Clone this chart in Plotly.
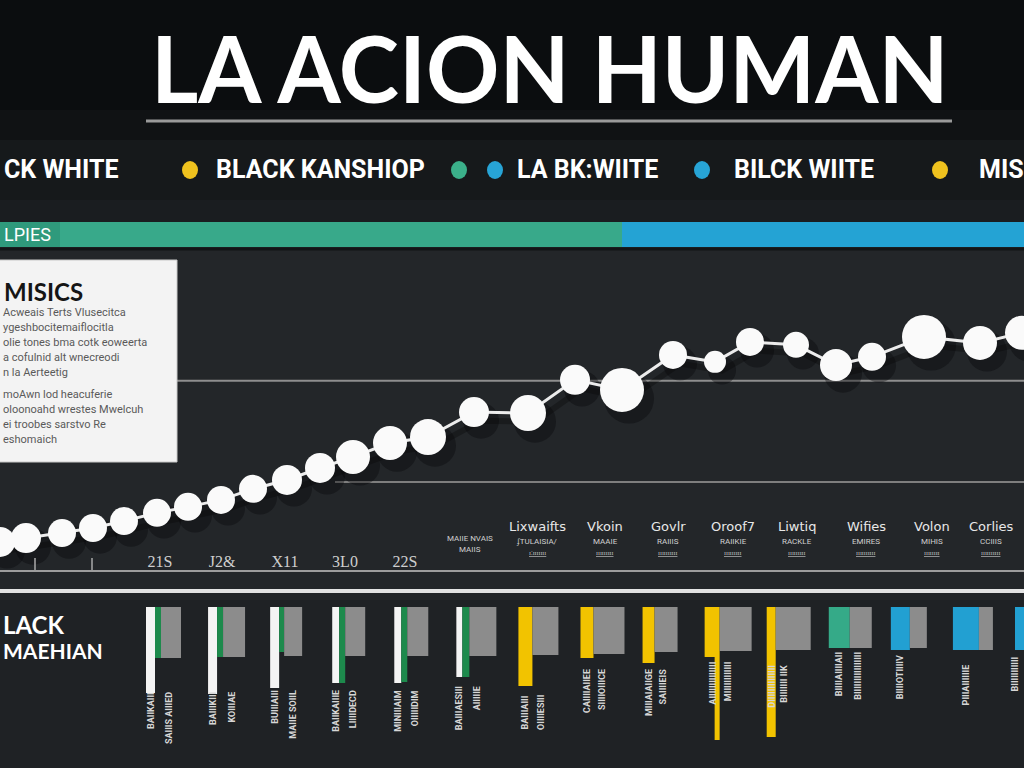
import plotly.graph_objects as go

W, H = 1024, 768


def px(x):
    return x / W


def py(y):
    return 1 - y / H


# ---------------- data ----------------
# trend line
period = [0.0, 2.6, 6.2, 9.3, 12.4, 15.7, 18.8, 22.1, 25.3, 28.7, 32.0, 35.3, 39.0, 42.8,
          47.4, 52.8, 57.5, 62.2, 67.3, 71.5, 75.0, 79.6, 83.6, 87.2, 92.4, 98.0, 102.2]
index_value = [11.7, 13.3, 15.4, 17.5, 20.4, 23.8, 26.3, 29.2, 33.8, 37.5, 42.5, 47.1, 52.9, 55.4,
               65.8, 65.4, 79.2, 75.0, 89.6, 86.7, 95.0, 93.8, 85.4, 88.8, 97.1, 94.6, 98.8]
point_weight = [30, 30, 28, 28, 28, 28, 28, 28, 28, 30, 30, 34, 34, 36,
                30, 36, 30, 44, 28, 22, 28, 26, 32, 28, 44, 34, 34]

tick_pos = [16.0, 22.2, 28.5, 34.5, 40.5]
tick_text = ["21S", "J2&", "X11", "3L0", "22S"]

cat_pos = [47.0, 53.7, 60.5, 66.8, 73.3, 79.7, 86.6, 93.2, 99.1]
cat_title = ["MAIIE NVAIS", "Lixwaifts", "Vkoin", "Govlr", "Oroof7", "Liwtiq", "Wifies", "Volon", "Corlies"]
cat_sub = ["MAIIS", "ʄTULAISIA/", "MAAIE", "RAIIIS", "RAIIKIE", "RACKLE", "EMIRES", "MIHIS", "CCIIIS"]
cat_sub2 = ["", "ɪ:ɪɪɪɪɪɪɪ", "ɪɪɪɪɪɪɪɪɪ", "ɪɪɪɪɪɪɪɪɪɪ", "ɪɪɪɪɪɪɪɪɪ", "ɪɪɪɪɪɪɪɪɪ", "ɪɪɪɪɪɪɪɪɪɪ", "ɪɪɪɪɪɪɪɪ", "ɪɪɪɪɪɪɪɪɪɪ"]

legend_names = ["CK WHITE", "BLACK KANSHIOP", "LA BK:WIITE", "BILCK WIITE", "MIS"]

grid_values = [36.7, 78.8]

# bar panel
slots = list(range(15))
bar_main = [86, 87, 81, 76, 76, 70, 79, 51, 56, 50, 130, 41, 43, 43, 43]
bar_stripe = [51, 50, 45, 76, 75, 70, 0, 0, 0, 0, 0, 0, 0, 0, 0]
bar_gray = [51, 50, 49, 49, 49, 49, 48, 47, 45, 44, 43, 41, 41, 43, 43]
bar_tail = [0, 0, 0, 0, 0, 0, 0, 0, 0, 83, 0, 0, 0, 0, 0]
bar_tail_base = [0, 0, 0, 0, 0, 0, 0, 0, 0, 50, 0, 0, 0, 0, 0]
label_a = ["BAIIKAIII", "BAIIIKIII", "BUIIIAIII", "BAIIKAIIIE", "MINIIIAIM", "BAIIIAESIII",
           "BAIIIAIII", "CAIIIIAIIEE", "MIIIAIAIIGE", "AIIIIIIIIIIIIII", "DIIIIIIIIIIIIII",
           "BIIIIAIIIIAII", "BIIIIOTIIIIV", "PIIIAIIIIIIE", "BIIIIIIIIIII"]
label_b = ["SAIIIS AIIIED", "KOIIIAE", "MAIIE SOIIL", "LIIIIDECD", "OIIIIIDIM", "AIIIIIE",
           "OIIIIESIII", "SIIIIOIIICE", "SAIIIIEIS", "MIIIIIIIIIIII", "BIIIIIII IIK", "BIIIIIIIIIIIIIIII",
           "", "", ""]

# ---------------- styles ----------------
main_colors = ["#f4f4f4"] * 6 + ["#f2c300"] * 5 + ["#35aa88"] + ["#22a0d2"] * 3
main_w_px = [9, 9, 9, 7, 7, 6, 14, 13, 12, 15, 9, 21, 19, 26, 12]
stripe_w_px = [6, 6, 5, 6, 6, 7, 0, 0, 0, 0, 0, 0, 0, 0, 0]
gray_w_px = [20, 22, 18, 20, 21, 27, 26, 31, 23, 32, 35, 22, 17, 14, 10]
label_top_px = [690, 690, 688, 688, 688, 684, 693, 667, 667, 660, 663, 650, 653, 662, 655]
legend_text_x = [2, 214, 515, 732, 977]
SLOT_PX = 62.07
SLOT0_PX = 146
X_RANGE = [0, 102.4]
Y_RANGE = [0, 133.3]
SHADOW_DX, SHADOW_DY = 0.7, 3.6   # shadow offset, in axis units
LABEL_MAX_X = (1014 - SLOT0_PX) / SLOT_PX

fig = go.Figure()

# soft shadow of the trend line (same data on an offset copy of the axes)
fig.add_trace(go.Scatter(
    x=period, y=index_value, mode="lines+markers",
    line=dict(color="rgba(0,0,0,0.28)", width=6),
    marker=dict(size=[s + 6 for s in point_weight], color="rgba(5,6,7,0.36)", opacity=1, line=dict(width=0)),
    xaxis="x", yaxis="y", showlegend=False, hoverinfo="skip",
))
# trend line
fig.add_trace(go.Scatter(
    x=period, y=index_value, mode="lines+markers",
    line=dict(color="#ececec", width=3),
    marker=dict(size=point_weight, color="#fafafa", opacity=1, line=dict(width=0)),
    xaxis="x3", yaxis="y3", showlegend=False, hoverinfo="skip",
))

# bars
u = [w / SLOT_PX for w in main_w_px]
su = [w / SLOT_PX for w in stripe_w_px]
gu = [w / SLOT_PX for w in gray_w_px]
fig.add_trace(go.Bar(
    x=slots, y=bar_main, base=0, offset=[0] * 15, width=u,
    marker=dict(color=main_colors, line=dict(width=0)),
    xaxis="x2", yaxis="y2", showlegend=False, hoverinfo="skip",
))
fig.add_trace(go.Bar(
    x=slots, y=bar_stripe, base=0, offset=u, width=su,
    marker=dict(color="#1d8a4c", line=dict(width=0)),
    xaxis="x2", yaxis="y2", showlegend=False, hoverinfo="skip",
))
fig.add_trace(go.Bar(
    x=slots, y=bar_gray, base=0, offset=[a + b for a, b in zip(u, su)], width=gu,
    marker=dict(color="#8c8c8c", line=dict(width=0)),
    xaxis="x2", yaxis="y2", showlegend=False, hoverinfo="skip",
))
fig.add_trace(go.Bar(
    x=slots, y=bar_tail, base=bar_tail_base, offset=[a - 5 / SLOT_PX for a in u], width=5 / SLOT_PX,
    marker=dict(color="#f2c300", line=dict(width=0)),
    xaxis="x2", yaxis="y2", showlegend=False, hoverinfo="skip",
))

shapes = []
# background bands
bands = [(0, 110, "#0b0d0f"), (110, 140, "#101214"), (140, 200, "#16191b"), (200, 222, "#1a1d20"),
         (247, 600, "#232629"), (600, 768, "#1f2225")]
for y0, y1, c in bands:
    shapes.append(dict(type="rect", xref="paper", yref="paper", x0=0, x1=1, y0=py(y1), y1=py(y0),
                       fillcolor=c, line=dict(width=0), layer="below"))
# title underline
shapes.append(dict(type="line", xref="paper", yref="paper", x0=px(146), x1=px(952), y0=py(121), y1=py(121),
                   line=dict(color="#9a9a9a", width=3)))
# colored band
shapes.append(dict(type="rect", xref="paper", yref="paper", x0=0, x1=px(622), y0=py(247), y1=py(222),
                   fillcolor="#38a98a", line=dict(width=0), layer="below"))
shapes.append(dict(type="rect", xref="paper", yref="paper", x0=px(622), x1=1, y0=py(247), y1=py(222),
                   fillcolor="#24a3d4", line=dict(width=0), layer="below"))
shapes.append(dict(type="rect", xref="paper", yref="paper", x0=0, x1=px(60), y0=py(247), y1=py(222),
                   fillcolor="#2f9a7c", line=dict(width=0), layer="below"))
shapes.append(dict(type="line", xref="paper", yref="paper", x0=0, x1=1, y0=py(249), y1=py(249),
                   line=dict(color="#121517", width=3), layer="below"))
# horizontal reference lines
shapes.append(dict(type="line", xref="paper", yref="y3", x0=px(177), x1=1, y0=grid_values[1], y1=grid_values[1],
                   line=dict(color="#8e8e8e", width=2), layer="below"))
shapes.append(dict(type="line", xref="paper", yref="y3", x0=px(335), x1=1, y0=grid_values[0], y1=grid_values[0],
                   line=dict(color="#7e7e7e", width=2), layer="below"))
# small ticks
for tx in [3.5, 9.2]:
    shapes.append(dict(type="line", xref="x3", yref="paper", x0=tx, x1=tx, y0=py(570), y1=py(558),
                       line=dict(color="#aaaaaa", width=1.5)))
# separator
shapes.append(dict(type="line", xref="paper", yref="paper", x0=0, x1=1, y0=py(591), y1=py(591),
                   line=dict(color="#e4e4e4", width=4)))
# text box
shapes.append(dict(type="rect", xref="paper", yref="paper", x0=px(-4), x1=px(177), y0=py(462), y1=py(260),
                   fillcolor="#f3f3f3", line=dict(color="#c8c8c8", width=1), layer="above"))
# legend dots
for cx, c in [(190, "#f0c21e"), (459, "#3bb08a"), (495, "#27a4d6"), (702, "#27a4d6"), (940, "#f0c21e")]:
    shapes.append(dict(type="circle", xref="paper", yref="paper", x0=px(cx - 8), x1=px(cx + 8),
                       y0=py(179), y1=py(161), fillcolor=c, line=dict(width=0)))

ann = []
# title
ann.append(dict(text="LA ACION HUMAN", x=px(550), y=py(68), xref="paper", yref="paper", showarrow=False,
                xanchor="center", yanchor="middle",
                font=dict(family="Lato", size=91, color="#ffffff", weight="bold")))
# legend texts
leg_font = dict(family="Roboto", size=25, color="#ffffff", weight="bold")
for tx, t in zip(legend_text_x, legend_names):
    ann.append(dict(text=t, x=px(tx), y=py(170), xref="paper", yref="paper", showarrow=False,
                    xanchor="left", yanchor="middle", font=leg_font))
ann.append(dict(text="LPIES", x=px(2), y=py(234), xref="paper", yref="paper", showarrow=False,
                xanchor="left", yanchor="middle",
                font=dict(family="Roboto", size=18, color="#ffffff")))
# text box contents
ann.append(dict(text="MISICS", x=px(2), y=py(291), xref="paper", yref="paper", showarrow=False,
                xanchor="left", yanchor="middle",
                font=dict(family="Lato", size=24, color="#151515", weight="bold")))
box_lines = [("Acweais Terts Vlusecitca", 312), ("ygeshbocitemaiflocitla", 327),
             ("olie tones bma cotk eoweerta", 342), ("a cofulnid alt wnecreodi", 357),
             ("n la Aerteetig", 372), ("moAwn lod heacuferie", 394),
             ("oloonoahd wrestes Mwelcuh", 409), ("ei troobes sarstvo Re", 424), ("eshomaich", 439)]
for t, yy in box_lines:
    ann.append(dict(text=t, x=px(1), y=py(yy), xref="paper", yref="paper", showarrow=False,
                    xanchor="left", yanchor="middle",
                    font=dict(family="Roboto", size=11, color="#5a5a5a")))
# category labels on the trend axis
for i, (xp, t, s, s2) in enumerate(zip(cat_pos, cat_title, cat_sub, cat_sub2)):
    if i == 0:
        ann.append(dict(text=t, x=xp, y=py(545), xref="x3", yref="paper", showarrow=False,
                        font=dict(family="Roboto", size=8, color="#d0d0d0")))
        ann.append(dict(text=s, x=xp, y=py(556), xref="x3", yref="paper", showarrow=False,
                        font=dict(family="Roboto", size=8, color="#d0d0d0")))
        continue
    ann.append(dict(text=t, x=xp, y=py(536), xref="x3", yref="paper", showarrow=False,
                    font=dict(family="DejaVu Sans", size=13, color="#e8e8e8")))
    ann.append(dict(text=s, x=xp, y=py(548), xref="x3", yref="paper", showarrow=False,
                    font=dict(family="Roboto", size=8, color="#d0d0d0")))
    ann.append(dict(text="<u>" + s2 + "</u>", x=xp, y=py(559), xref="x3", yref="paper", showarrow=False,
                    font=dict(family="Roboto", size=7, color="#bdbdbd")))
# left bottom titles
ann.append(dict(text="LACK", x=px(1), y=py(624), xref="paper", yref="paper", showarrow=False,
                xanchor="left", yanchor="middle",
                font=dict(family="Lato", size=24, color="#ffffff", weight="bold")))
ann.append(dict(text="MAEHIAN", x=px(1), y=py(650), xref="paper", yref="paper", showarrow=False,
                xanchor="left", yanchor="middle",
                font=dict(family="Lato", size=21, color="#ffffff", weight="bold")))
# vertical labels under bars
for i in slots:
    xa = min(i + u[i] / 2, LABEL_MAX_X)
    xb = min(i + u[i] + su[i] + 8 / SLOT_PX, LABEL_MAX_X)
    for xx, t in [(xa, label_a[i]), (xb, label_b[i])]:
        if not t:
            continue
        ann.append(dict(text="<b>" + t + "</b>", x=xx, y=py(label_top_px[i]), xref="x2", yref="paper",
                        showarrow=False, textangle=-90, xanchor="center", yanchor="top",
                        font=dict(family="Roboto", size=9, color="#d6d6d6")))

axis_off = dict(showgrid=False, zeroline=False, showticklabels=False, ticks="", showline=False)
fig.update_layout(
    width=W, height=H, margin=dict(l=0, r=0, t=0, b=0),
    paper_bgcolor="#222528", plot_bgcolor="rgba(0,0,0,0)",
    shapes=shapes, annotations=ann, showlegend=False, barmode="overlay",
    # shadow axes (offset copies)
    xaxis=dict(domain=[0, 1], range=[X_RANGE[0] - SHADOW_DX, X_RANGE[1] - SHADOW_DX], **axis_off),
    yaxis=dict(domain=[py(570), py(250)], range=[Y_RANGE[0] + SHADOW_DY, Y_RANGE[1] + SHADOW_DY], **axis_off),
    # main trend axes
    xaxis3=dict(overlaying="x", anchor="y3", range=X_RANGE, showgrid=False, zeroline=False,
                showline=True, linecolor="#9c9c9c", linewidth=2,
                tickvals=tick_pos, ticktext=tick_text, ticks="", ticklabelposition="inside",
                tickfont=dict(family="Liberation Serif, serif", size=16, color="#cfcfcf")),
    yaxis3=dict(overlaying="y", anchor="x3", range=Y_RANGE, **axis_off),
    xaxis2=dict(domain=[0, 1], range=[-SLOT0_PX / SLOT_PX, (1024 - SLOT0_PX) / SLOT_PX], anchor="y2", **axis_off),
    yaxis2=dict(domain=[py(767), py(607)], range=[160, 0], anchor="x2", **axis_off),
)

fig.write_html("out.html", config={"displayModeBar": False},
               post_script="document.body.style.margin='0px';document.body.style.overflow='hidden';")
